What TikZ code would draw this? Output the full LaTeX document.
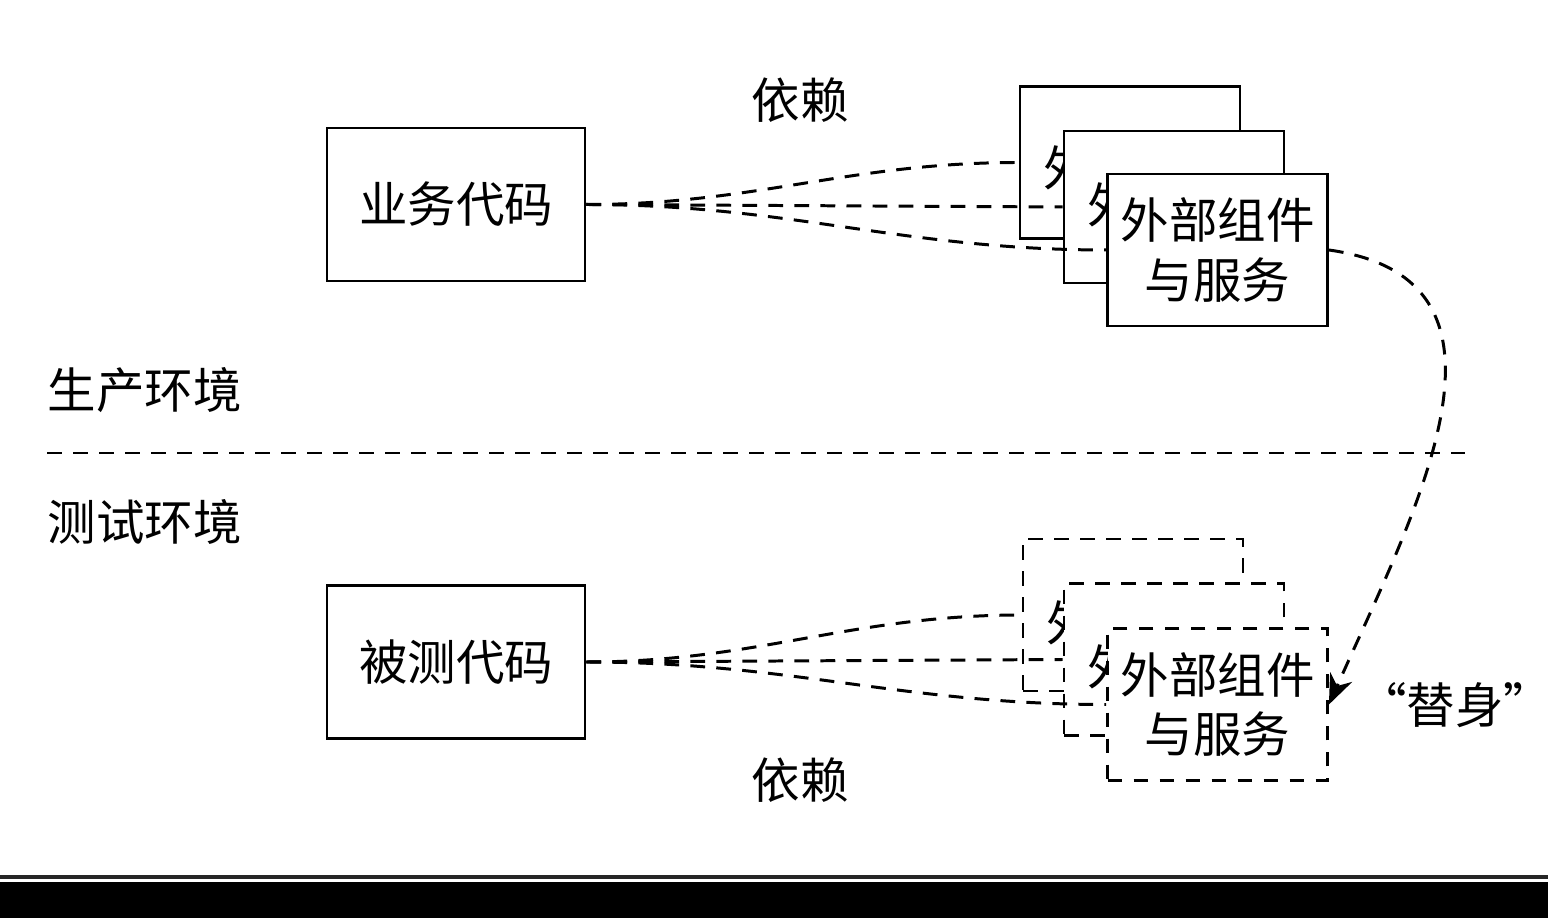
\documentclass[tikz,border=0pt]{standalone}
\usepackage{fontspec}
\setmainfont{Noto Sans CJK SC}
\usepackage{tikz}
\usetikzlibrary{arrows.meta,calc}

\begin{document}
\begin{tikzpicture}[
  font=\fontsize{13.8}{17}\selectfont,
  blk/.style={draw,line width=0.8pt,minimum width=2.58cm,minimum height=1.53cm,inner sep=0pt},
  comp/.style={draw,line width=0.8pt,fill=white,align=center,minimum width=2.2cm,minimum height=1.52cm,inner sep=0pt},
  dcomp/.style={comp,dash pattern=on 4.2pt off 3.2pt},
  ghost/.style={align=center,inner sep=0pt},
  dep/.style={line width=0.85pt,dash pattern=on 4.2pt off 3.2pt},
  lbl/.style={inner sep=0pt}
]
  \useasboundingbox (0,0) rectangle (15.48,9.18);

  % production side
  \node[blk] (biz) at (4.56,7.135) {业务代码};
  \node[comp] (prodA) at (11.30,7.555) {};
  \node[ghost] (prodAtxt) at ([shift={(0.1,-0.35)}]prodA.center) {外部组件\\与服务};
  \node[comp] (prodB) at ([shift={(0.44,-0.445)}]prodA.center) {};
  \node[ghost] (prodBtxt) at ([shift={(0.1,-0.28)}]prodB.center) {外部组件\\与服务};
  \node[comp] (prodC) at ([shift={(0.435,-0.43)}]prodB.center) {外部组件\\与服务};

  % test side
  \node[blk] (sut) at (4.56,2.56) {被测代码};
  \node[dcomp] (testA) at (11.33,3.03) {};
  \node[ghost] (testAtxt) at ([shift={(0.1,-0.38)}]testA.center) {外部组件\\与服务};
  \node[dcomp] (testB) at ([shift={(0.41,-0.445)}]testA.center) {};
  \node[ghost] (testBtxt) at ([shift={(0.1,-0.375)}]testB.center) {外部组件\\与服务};
  \node[dcomp] (testC) at ([shift={(0.435,-0.45)}]testB.center) {外部组件\\与服务};

  % labels
  \node[lbl] (depTop) at (8.00,8.18) {依赖};
  \node[lbl] (depBot) at (8.00,1.38) {依赖};
  \node[lbl,anchor=west] (prodEnv) at (0.47,5.28) {生产环境};
  \node[lbl,anchor=west] (testEnv) at (0.47,3.96) {测试环境};
  \node[lbl] (double) at (14.55,2.13) {“替身”};

  % divider
  \coordinate (divL) at (0.47,4.65);
  \coordinate (divR) at (14.65,4.65);
  \draw[dep] (divL) -- (divR);

  % dependencies
  \draw[dep] (biz.east) to[out=0,in=180] (prodA.west);
  \draw[dep] (biz.east) -- (prodB.west);
  \draw[dep] (biz.east) to[out=0,in=180] (prodC.west);
  \draw[dep] (sut.east) to[out=0,in=180] (testA.west);
  \draw[dep] (sut.east) -- (testB.west);
  \draw[dep] (sut.east) to[out=0,in=180] (testC.west);

  % stand-in
  \draw[dep,-{Stealth[length=0.3cm,width=0.24cm]}] (prodC.east) to[out=-8,in=66,looseness=1.2] (testC.east);

  % page edge
  \fill[black] (0,0) rectangle (15.48,0.36);
  \draw[line width=1pt,black!85] (0,0.41) -- (15.48,0.41);
\end{tikzpicture}
\end{document}
